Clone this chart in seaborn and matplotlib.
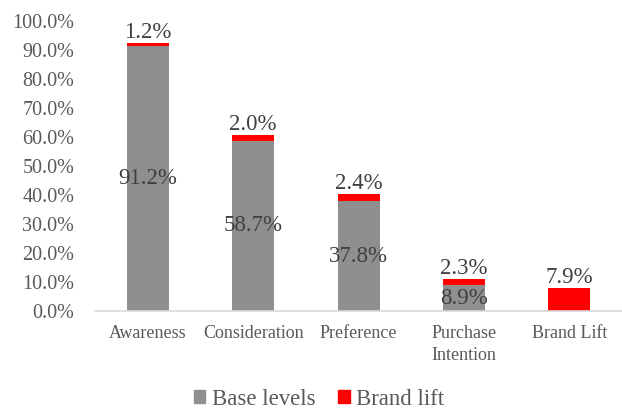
import matplotlib
matplotlib.use("Agg")
import matplotlib.pyplot as plt
import seaborn as sns
import pandas as pd
from matplotlib.patches import Patch
from matplotlib.ticker import PercentFormatter

categories = ["Awareness", "Consideration", "Preference", "Purchase\nIntention", "Brand Lift"]
base_levels = [91.2, 58.7, 37.8, 8.9, 0.0]
brand_lift = [1.2, 2.0, 2.4, 2.3, 7.9]

df = pd.DataFrame({"category": categories, "base": base_levels, "lift": brand_lift})
df["total"] = df["base"] + df["lift"]

sns.set_theme(style="white")
plt.rcParams["font.family"] = ["Liberation Serif", "DejaVu Serif"]

GRAY = "#8f8f8f"
RED = "#ff0000"

fig = plt.figure(figsize=(6.22, 4.11), dpi=100)
ax = fig.add_axes([0.153, 0.243, 0.847, 0.706])

sns.barplot(data=df, x="category", y="total", color=RED, width=0.4, ax=ax,
            saturation=1, edgecolor="none")
sns.barplot(data=df, x="category", y="base", color=GRAY, width=0.4, ax=ax,
            saturation=1, edgecolor="none")

for i, (b, l) in enumerate(zip(base_levels, brand_lift)):
    if b > 0:
        ax.text(i, b / 2, f"{b:.1f}%", ha="center", va="center", fontsize=16.5, color="#404040")
    ax.text(i, b + l, f"{l:.1f}%", ha="center", va="bottom", fontsize=16.5, color="#404040")

ax.set_ylim(0, 100)
ax.set_xlim(-0.5, 4.5)
ax.set_yticks(range(0, 101, 10))
ax.yaxis.set_major_formatter(PercentFormatter(decimals=1))
ax.set_xlabel("")
ax.set_ylabel("")
ax.tick_params(axis="y", labelsize=14.5, colors="#595959", length=0, pad=15)
ax.tick_params(axis="x", labelsize=13, colors="#595959", length=0, pad=10)
for lab in ax.get_xticklabels():
    lab.set_linespacing(1.35)

for s in ["top", "right", "left"]:
    ax.spines[s].set_visible(False)
ax.spines["bottom"].set_color("#d9d9d9")
ax.spines["bottom"].set_linewidth(1.2)
ax.grid(False)

handles = [Patch(color=GRAY, label="Base levels"), Patch(color=RED, label="Brand lift")]
leg = fig.legend(handles=handles, loc="center", bbox_to_anchor=(0.513, 0.028), ncol=2,
                 frameon=False, fontsize=16.4, handlelength=0.5, handleheight=0.5,
                 handletextpad=0.3, columnspacing=1.0, labelcolor="#595959",
                 borderpad=0.1)

fig.savefig("out.png", dpi=100)
